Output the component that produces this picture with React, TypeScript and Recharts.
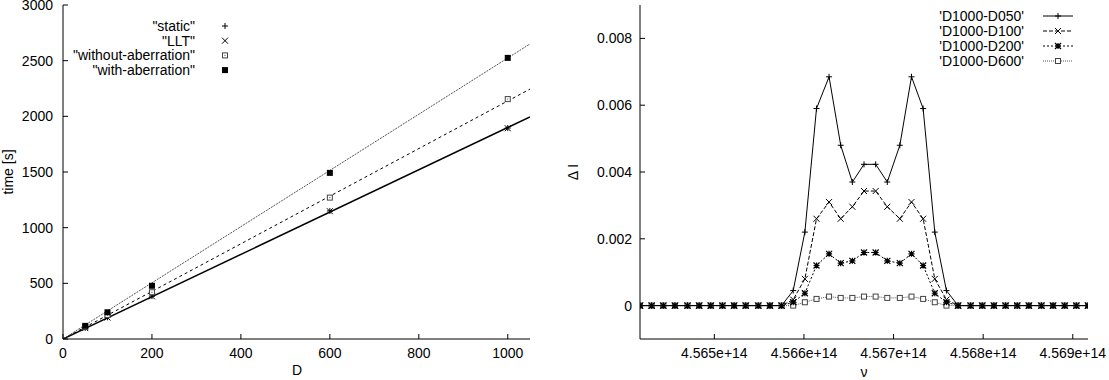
import React from "react";
import { ComposedChart, LineChart, Line, Scatter, XAxis, YAxis, Legend } from "recharts";

const FONT = "'Liberation Sans', Arial, Helvetica, sans-serif";
const FS = 14;

// left panel: run time against D
const D_VALUES = [50, 100, 200, 600, 1000];
const STATIC_T = [100, 195, 385, 1150, 1895];
const LLT_T = [98, 193, 383, 1148, 1893];
const WITHOUT_T = [108, 215, 420, 1270, 2155];
const WITH_T = [118, 240, 478, 1492, 2525];
const FIT_D = [0, 1050];
const FIT_SOLID = [0, 1995];
const FIT_DASHED = [0, 2245];
const FIT_DOTTED = [0, 2650];
const D_TICKS = [0, 200, 400, 600, 800, 1000];
const T_TICKS = [0, 500, 1000, 1500, 2000, 2500, 3000];
const LEFT_NAMES = ['"static"', '"LLT"', '"without-aberration"', '"with-aberration"'];

// right panel: intensity differences against frequency
const NU = [
  4.56417e14, 4.5643e14, 4.56443e14, 4.56456e14, 4.5647e14, 4.56483e14, 4.56496e14,
  4.56509e14, 4.56522e14, 4.56535e14, 4.56549e14, 4.56562e14, 4.56575e14, 4.56588e14,
  4.56601e14, 4.56614e14, 4.56628e14, 4.56641e14, 4.56654e14, 4.56667e14, 4.5668e14,
  4.56693e14, 4.56707e14, 4.5672e14, 4.56733e14, 4.56746e14, 4.56759e14, 4.56772e14,
  4.56786e14, 4.56799e14, 4.56812e14, 4.56825e14, 4.56838e14, 4.56851e14, 4.56865e14,
  4.56878e14, 4.56891e14, 4.56904e14, 4.56917e14,
];
const D050 = [
  0, 0, 0, 0, 0, 0, 0, 0, 0, 0, 0, 0, 0,
  0.00045, 0.0022, 0.0059, 0.00685, 0.0048, 0.0037, 0.00423, 0.00423, 0.0037, 0.0048, 0.00685,
  0.0059, 0.0022, 0.00045,
  0, 0, 0, 0, 0, 0, 0, 0, 0, 0, 0, 0,
];
const D100 = [
  0, 0, 0, 0, 0, 0, 0, 0, 0, 0, 0, 0, 0,
  0.00018, 0.0008, 0.0026, 0.0031, 0.0026, 0.00296, 0.00343, 0.00343, 0.00296, 0.0026, 0.0031,
  0.0026, 0.0008, 0.00018,
  0, 0, 0, 0, 0, 0, 0, 0, 0, 0, 0, 0,
];
const D200 = [
  0, 0, 0, 0, 0, 0, 0, 0, 0, 0, 0, 0, 0,
  0.0001, 0.00037, 0.0012, 0.00155, 0.00127, 0.00134, 0.00159, 0.00159, 0.00134, 0.00127, 0.00155,
  0.0012, 0.00037, 0.0001,
  0, 0, 0, 0, 0, 0, 0, 0, 0, 0, 0, 0,
];
const D600 = [
  0, 0, 0, 0, 0, 0, 0, 0, 0, 0, 0, 0, 0,
  0, 0.0001, 0.0002, 0.00027, 0.00023, 0.00023, 0.00027, 0.00027, 0.00023, 0.00023, 0.00027,
  0.0002, 0.0001, 0,
  0, 0, 0, 0, 0, 0, 0, 0, 0, 0, 0, 0,
];
const NU_TICKS = [4.565e14, 4.566e14, 4.567e14, 4.568e14, 4.569e14];
const DI_TICKS = [0, 0.002, 0.004, 0.006, 0.008];
const RIGHT_NAMES = ["'D1000-D050'", "'D1000-D100'", "'D1000-D200'", "'D1000-D600'"];

type MarkKind = "plus" | "cross" | "star" | "box" | "boxdot" | "fbox";

function Mark({ cx, cy, kind }: { cx?: number; cy?: number; kind: MarkKind }) {
  if (cx == null || cy == null || isNaN(cx) || isNaN(cy)) return null;
  const s = 3;
  const plus = `M${cx - s},${cy}h${2 * s}M${cx},${cy - s}v${2 * s}`;
  const cross = `M${cx - s},${cy - s}l${2 * s},${2 * s}M${cx - s},${cy + s}l${2 * s},${-2 * s}`;
  if (kind === "plus") return <path d={plus} stroke="#000" strokeWidth={1} fill="none" />;
  if (kind === "cross") return <path d={cross} stroke="#000" strokeWidth={1} fill="none" />;
  if (kind === "star") return <path d={plus + cross} stroke="#000" strokeWidth={1.2} fill="none" />;
  if (kind === "fbox") return <rect x={cx - 3} y={cy - 3} width={6} height={6} fill="#000" />;
  return (
    <g>
      <rect x={cx - 2.5} y={cy - 2.5} width={5} height={5} fill="#fff" stroke="#444" strokeWidth={1} />
      {kind === "boxdot" && <rect x={cx - 0.5} y={cy - 0.5} width={1} height={1} fill="#444" />}
    </g>
  );
}

const dotOf = (kind: MarkKind) => (p: any) => (
  <Mark key={`m-${kind}-${p.index}`} cx={p.cx} cy={p.cy} kind={kind} />
);

const tickStyle = { fill: "#000", fontSize: FS, fontFamily: FONT };
const axisLine = { stroke: "#000", strokeWidth: 1 };
const tickLine = { stroke: "#000", strokeWidth: 1 };

const toPts = (xs: number[], ys: number[]) => xs.map((x, i) => ({ x, y: ys[i] }));

function LeftLegend() {
  const kinds: MarkKind[] = ["plus", "cross", "boxdot", "fbox"];
  return (
    <svg width={560} height={90} style={{ display: "block" }}>
      {LEFT_NAMES.map((n, i) => (
        <g key={n}>
          <text x={195} y={26 + i * 14.7} textAnchor="end" dominantBaseline="central"
            fontSize={FS} fontFamily={FONT} fill="#000">{n}</text>
          <Mark cx={225} cy={26 + i * 14.7} kind={kinds[i]} />
        </g>
      ))}
    </svg>
  );
}

function RightLegend() {
  const kinds: MarkKind[] = ["plus", "cross", "star", "box"];
  const dashes = [undefined, "4 2", "2 2", "1 1"];
  const colors = ["#000", "#000", "#000", "#555"];
  return (
    <svg width={549} height={80} style={{ display: "block" }}>
      {RIGHT_NAMES.map((n, i) => {
        const y = 16 + i * 15;
        return (
          <g key={n}>
            <text x={464} y={y} textAnchor="end" dominantBaseline="central"
              fontSize={FS} fontFamily={FONT} fill="#000">{n}</text>
            <line x1={483} x2={513} y1={y} y2={y} stroke={colors[i]} strokeWidth={1}
              strokeDasharray={dashes[i]} />
            <Mark cx={498} cy={y} kind={kinds[i]} />
          </g>
        );
      })}
    </svg>
  );
}

function TimingChart() {
  return (
    <ComposedChart width={560} height={380} margin={{ top: 5, right: 30, bottom: 0, left: 0 }}>
      <XAxis dataKey="x" type="number" domain={[0, 1050]} ticks={D_TICKS} interval={0}
        allowDataOverflow height={41} tickSize={-5} tickMargin={14}
        tick={tickStyle} axisLine={axisLine} tickLine={tickLine}
        label={() => (
          <text x={297} y={370} textAnchor="middle" dominantBaseline="central"
            fontSize={FS} fontFamily={FONT} fill="#000">D</text>
        )} />
      <XAxis xAxisId="top" orientation="top" dataKey="x" type="number" domain={[0, 1050]}
        ticks={D_TICKS} interval={0} allowDataOverflow height={0} tickSize={-5}
        tickFormatter={() => ""} axisLine={axisLine} tickLine={tickLine} />
      <YAxis dataKey="y" type="number" domain={[0, 3000]} ticks={T_TICKS} interval={0}
        allowDataOverflow width={63} tickSize={-5} tickMargin={15}
        tick={tickStyle} axisLine={axisLine} tickLine={tickLine}
        label={() => (
          <text x={8} y={172} transform="rotate(-90 8 172)" textAnchor="middle"
            dominantBaseline="central" fontSize={FS} fontFamily={FONT} fill="#000">time [s]</text>
        )} />
      <YAxis yAxisId="right" orientation="right" dataKey="y" type="number" domain={[0, 3000]}
        ticks={T_TICKS} interval={0} allowDataOverflow width={0} tickSize={-5}
        tickFormatter={() => ""} axisLine={axisLine} tickLine={tickLine} />
      <Line data={toPts(FIT_D, FIT_SOLID)} dataKey="y" stroke="#000" strokeWidth={1.5}
        dot={false} isAnimationActive={false} legendType="none" />
      <Line data={toPts(FIT_D, FIT_DASHED)} dataKey="y" stroke="#000" strokeWidth={1}
        strokeDasharray="3 3" dot={false} isAnimationActive={false} legendType="none" />
      <Line data={toPts(FIT_D, FIT_DOTTED)} dataKey="y" stroke="#555" strokeWidth={1}
        strokeDasharray="2 1" dot={false} isAnimationActive={false} legendType="none" />
      <Scatter name={LEFT_NAMES[0]} data={toPts(D_VALUES, STATIC_T)} isAnimationActive={false}
        shape={(p: any) => <Mark cx={p.cx} cy={p.cy} kind="plus" />} />
      <Scatter name={LEFT_NAMES[1]} data={toPts(D_VALUES, LLT_T)} isAnimationActive={false}
        shape={(p: any) => <Mark cx={p.cx} cy={p.cy} kind="cross" />} />
      <Scatter name={LEFT_NAMES[2]} data={toPts(D_VALUES, WITHOUT_T)} isAnimationActive={false}
        shape={(p: any) => <Mark cx={p.cx} cy={p.cy} kind="boxdot" />} />
      <Scatter name={LEFT_NAMES[3]} data={toPts(D_VALUES, WITH_T)} isAnimationActive={false}
        shape={(p: any) => <Mark cx={p.cx} cy={p.cy} kind="fbox" />} />
      <Legend layout="vertical" align="center" verticalAlign="middle"
        wrapperStyle={{ left: 0, top: 0, width: 560, height: 90 }} content={() => <LeftLegend />} />
    </ComposedChart>
  );
}

function SpectrumChart() {
  const rows = NU.map((nu, i) => ({ nu, a: D050[i], b: D100[i], c: D200[i], d: D600[i] }));
  const fmtNu = (v: number) => `${(v / 1e14).toFixed(3)}e+14`;
  const fmtDi = (v: number) => (v === 0 ? "0" : v.toFixed(3));
  return (
    <LineChart width={549} height={380} data={rows} margin={{ top: 5, right: 21, bottom: 0, left: 0 }}>
      <XAxis dataKey="nu" type="number" domain={[NU[0], NU[NU.length - 1]]} ticks={NU_TICKS}
        interval={0} allowDataOverflow height={41} tickSize={-5} tickMargin={14}
        tickFormatter={fmtNu} tick={tickStyle} axisLine={axisLine} tickLine={tickLine}
        label={() => (
          <text x={304} y={372} textAnchor="middle" dominantBaseline="central"
            fontSize={FS} fontFamily={FONT} fill="#000">ν</text>
        )} />
      <XAxis xAxisId="top" orientation="top" dataKey="nu" type="number"
        domain={[NU[0], NU[NU.length - 1]]} ticks={NU_TICKS} interval={0} allowDataOverflow
        height={0} tickSize={-5} tickFormatter={() => ""} axisLine={axisLine} tickLine={tickLine} />
      <YAxis type="number" domain={[-0.001, 0.009]} ticks={DI_TICKS} interval={0}
        allowDataOverflow width={80} tickSize={-5} tickMargin={13} tickFormatter={fmtDi}
        tick={tickStyle} axisLine={axisLine} tickLine={tickLine}
        label={() => (
          <text x={13} y={172} transform="rotate(-90 13 172)" textAnchor="middle"
            dominantBaseline="central" fontSize={FS} fontFamily={FONT} fill="#000">Δ I</text>
        )} />
      <YAxis yAxisId="right" orientation="right" type="number" domain={[-0.001, 0.009]}
        ticks={DI_TICKS} interval={0} allowDataOverflow width={0} tickSize={-5}
        tickFormatter={() => ""} axisLine={axisLine} tickLine={tickLine} />
      <Line dataKey="d" name={RIGHT_NAMES[3]} stroke="#555" strokeWidth={1} strokeDasharray="1 1"
        dot={dotOf("box")} activeDot={false} isAnimationActive={false} />
      <Line dataKey="c" name={RIGHT_NAMES[2]} stroke="#000" strokeWidth={1} strokeDasharray="2 2"
        dot={dotOf("star")} activeDot={false} isAnimationActive={false} />
      <Line dataKey="b" name={RIGHT_NAMES[1]} stroke="#000" strokeWidth={1} strokeDasharray="4 2"
        dot={dotOf("cross")} activeDot={false} isAnimationActive={false} />
      <Line dataKey="a" name={RIGHT_NAMES[0]} stroke="#000" strokeWidth={1}
        dot={dotOf("plus")} activeDot={false} isAnimationActive={false} />
      <Legend layout="vertical" align="center" verticalAlign="middle"
        wrapperStyle={{ left: 0, top: 0, width: 549, height: 80 }} content={() => <RightLegend />} />
    </LineChart>
  );
}

export default function App() {
  return (
    <div style={{ position: "absolute", left: 0, top: 0, width: 1109, height: 380, background: "#fff" }}>
      <div style={{ position: "absolute", left: 0, top: 0 }}>
        <TimingChart />
      </div>
      <div style={{ position: "absolute", left: 560, top: 0 }}>
        <SpectrumChart />
      </div>
    </div>
  );
}
